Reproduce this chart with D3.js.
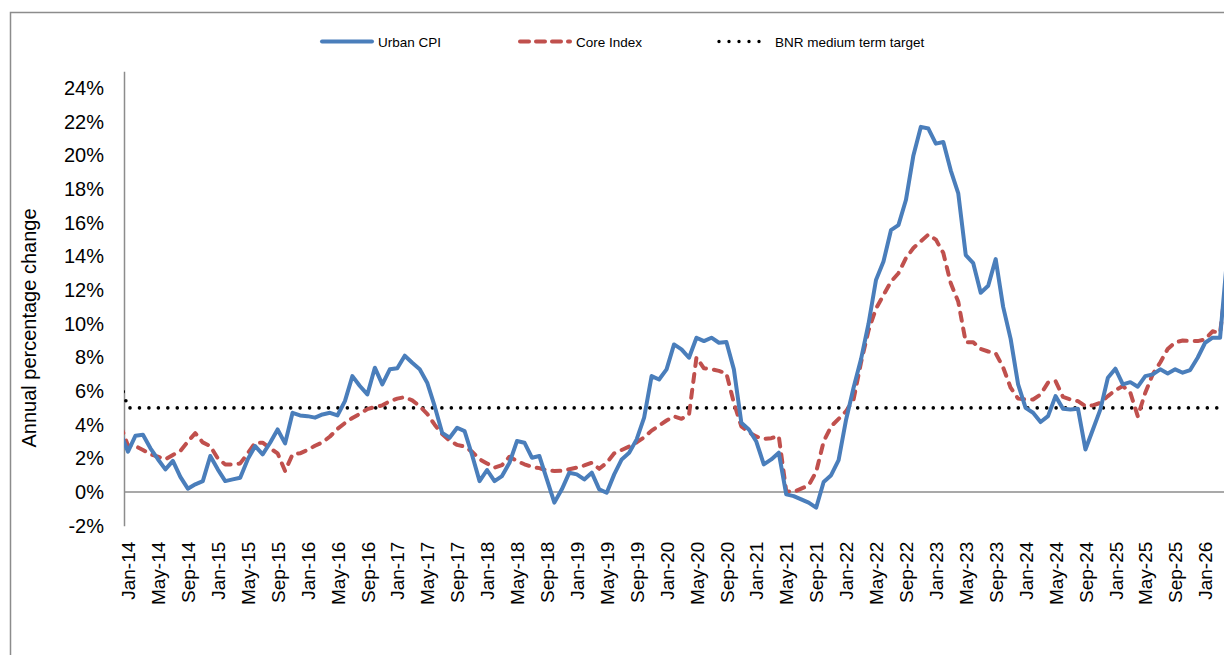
<!DOCTYPE html>
<html>
<head>
  <title>Urban CPI and Core Index - annual percentage change</title>
  <script src="https://d3js.org/d3.v7.min.js"></script>
  <style>
    body { margin: 0; background: #fff; }
    svg { display: block; font-family: "Liberation Sans", Arial, sans-serif; }
    .tick-label { font-size: 20px; fill: #000; }
    .x-label { font-size: 19px; fill: #000; }
    .legend text { font-size: 13.5px; fill: #000; }
    .axis-title { font-size: 20px; fill: #000; }
  </style>
</head>
<body>
<div id="chart"></div>
<script>
  // Monthly series, first value is Dec-13 (clipped at the axis), then Jan-14 ... Apr-26
  const urbanCPI = [
    3.5,
    2.4, 3.35, 3.4, 2.6, 1.95, 1.35, 1.85, 0.9, 0.2, 0.46, 0.65, 2.14,
    1.35, 0.65, 0.75, 0.85, 1.94, 2.73, 2.24, 2.93, 3.72, 2.89, 4.71, 4.55,
    4.51, 4.42, 4.61, 4.71, 4.55, 5.4, 6.89, 6.3, 5.8, 7.39, 6.4, 7.29,
    7.35, 8.1, 7.68, 7.29, 6.5, 5.1, 3.52, 3.23, 3.82, 3.62, 2.2, 0.65,
    1.31, 0.65, 0.95, 1.74, 3.03, 2.93, 2.04, 2.14, 0.75, -0.63, 0.16, 1.15,
    1.05, 0.75, 1.15, 0.16, -0.04, 1.05, 1.94, 2.34, 3.13, 4.42, 6.89, 6.69,
    7.29, 8.77, 8.48, 7.98, 9.17, 8.97, 9.17, 8.87, 8.91, 7.29, 4.12, 3.72,
    3.0, 1.64, 1.94, 2.34, -0.14, -0.24, -0.44, -0.63, -0.93, 0.6, 1.0, 1.9,
    4.3, 6.2, 7.9, 10.0, 12.6, 13.7, 15.56, 15.86, 17.35, 20.0, 21.7, 21.6,
    20.7, 20.8, 19.1, 17.74, 14.08, 13.6, 11.84, 12.26, 13.84, 11.0, 9.1, 6.4,
    5.0, 4.71, 4.16, 4.51, 5.7, 4.95, 4.91, 4.95, 2.53, 3.72, 4.91, 6.79,
    7.33, 6.4, 6.53, 6.26, 6.89, 6.99, 7.29, 7.05, 7.29, 7.09, 7.25, 7.98,
    8.87, 9.17, 9.17, 14.2
  ];

  const coreIndex = [
    3.95,
    2.75, 2.73, 2.5, 2.24, 2.1, 1.94, 2.2, 2.44, 3.0, 3.5, 2.95, 2.73,
    2.0, 1.64, 1.64, 1.7, 2.3, 2.93, 2.93, 2.6, 2.3, 1.25, 2.24, 2.3,
    2.5, 2.75, 2.95, 3.3, 3.75, 4.1, 4.4, 4.65, 4.93, 5.05, 5.15, 5.4,
    5.55, 5.64, 5.45, 5.1, 4.65, 4.0, 3.45, 3.05, 2.8, 2.7, 2.4, 1.95,
    1.7, 1.45, 1.6, 2.1, 1.85, 1.65, 1.5, 1.42, 1.28, 1.25, 1.26, 1.35,
    1.45, 1.58, 1.74, 1.38, 1.74, 2.3, 2.5, 2.7, 2.95, 3.25, 3.65, 3.95,
    4.25, 4.5, 4.35, 4.6, 8.0, 7.35, 7.3, 7.2, 7.05, 5.3, 3.9, 3.55,
    3.3, 3.15, 3.2, 3.33, 0.05, 0.0, 0.2, 0.4, 1.2, 3.0, 3.9, 4.35,
    4.8, 5.5, 7.7, 9.6, 10.9, 11.7, 12.5, 13.0, 13.9, 14.5, 14.9, 15.3,
    15.0, 14.2, 12.4, 11.3, 8.9, 8.9, 8.5, 8.35, 8.25, 7.4, 6.2, 5.55,
    5.5, 5.5, 5.8, 6.5, 6.6, 5.65, 5.5, 5.4, 5.1, 5.15, 5.3, 5.7,
    6.05, 6.3, 5.9, 4.5, 5.9, 7.0, 7.7, 8.5, 8.9, 9.0, 8.97, 8.97,
    9.07, 9.55, 9.45, 13.2
  ];

  const bnrTarget = [
    6.5,
    5, 5, 5, 5, 5, 5, 5, 5, 5, 5, 5, 5,
    5, 5, 5, 5, 5, 5, 5, 5, 5, 5, 5, 5,
    5, 5, 5, 5, 5, 5, 5, 5, 5, 5, 5, 5,
    5, 5, 5, 5, 5, 5, 5, 5, 5, 5, 5, 5,
    5, 5, 5, 5, 5, 5, 5, 5, 5, 5, 5, 5,
    5, 5, 5, 5, 5, 5, 5, 5, 5, 5, 5, 5,
    5, 5, 5, 5, 5, 5, 5, 5, 5, 5, 5, 5,
    5, 5, 5, 5, 5, 5, 5, 5, 5, 5, 5, 5,
    5, 5, 5, 5, 5, 5, 5, 5, 5, 5, 5, 5,
    5, 5, 5, 5, 5, 5, 5, 5, 5, 5, 5, 5,
    5, 5, 5, 5, 5, 5, 5, 5, 5, 5, 5, 5,
    5, 5, 5, 5, 5, 5, 5, 5, 5, 5, 5, 5,
    5, 5, 5, 5
  ];

  // Category labels shown on the x axis (every fourth month)
  const tickLabels = [
    "Jan-14", "May-14", "Sep-14", "Jan-15", "May-15", "Sep-15", "Jan-16", "May-16", "Sep-16",
    "Jan-17", "May-17", "Sep-17", "Jan-18", "May-18", "Sep-18", "Jan-19", "May-19", "Sep-19",
    "Jan-20", "May-20", "Sep-20", "Jan-21", "May-21", "Sep-21", "Jan-22", "May-22", "Sep-22",
    "Jan-23", "May-23", "Sep-23", "Jan-24", "May-24", "Sep-24", "Jan-25", "May-25", "Sep-25",
    "Jan-26"
  ];
  const yTicks = [-2, 0, 2, 4, 6, 8, 10, 12, 14, 16, 18, 20, 22, 24];

  const seriesNames = ["Urban CPI", "Core Index", "BNR medium term target"];

  // Page and plot geometry
  const W = 1224, H = 655;
  const plot = {left: 124, right: 1240, top: 71, bottom: 526};

  const svg = d3.select("#chart").append("svg")
    .attr("width", W)
    .attr("height", H);

  // Outer frame of the figure (partly cropped)
  svg.append("rect")
    .attr("x", 10.5).attr("y", 12.5)
    .attr("width", 1400).attr("height", 1000)
    .attr("fill", "none")
    .attr("stroke", "#8c8c8c")
    .attr("stroke-width", 1.5);

  // month index: -1 = Dec-13, 0 = Jan-14, ...
  const x = d3.scaleLinear()
    .domain([0, 144])
    .range([128, 128 + 144 * 7.48]);
  const y = d3.scaleLinear()
    .domain([-2, 25])
    .range([525.7, 71.3]);

  svg.append("clipPath").attr("id", "plotClip")
    .append("rect")
    .attr("x", plot.left).attr("y", plot.top - 20)
    .attr("width", plot.right - plot.left)
    .attr("height", plot.bottom - plot.top + 40);

  // Y axis with percentage labels
  const yAxis = svg.append("g")
    .attr("transform", `translate(${plot.left},0)`)
    .call(d3.axisLeft(y).tickValues(yTicks).tickSize(0).tickPadding(20)
      .tickFormat(d => d + "%"));
  yAxis.select(".domain").attr("stroke", "#8c8c8c").attr("stroke-width", 1.5);
  yAxis.selectAll(".tick text")
    .attr("class", "tick-label")
    .attr("font-family", null)
    .attr("font-size", null);

  // Zero line (horizontal axis crossing)
  svg.append("line")
    .attr("x1", plot.left).attr("x2", W + 10)
    .attr("y1", y(0)).attr("y2", y(0))
    .attr("stroke", "#8c8c8c")
    .attr("stroke-width", 1.5);

  // X axis labels, rotated
  const xAxis = svg.append("g")
    .attr("transform", `translate(0,${y(-2)})`)
    .call(d3.axisBottom(x)
      .tickValues(tickLabels.map((d, i) => i * 4))
      .tickSize(0)
      .tickFormat((d, i) => tickLabels[i]));
  xAxis.select(".domain").remove();
  xAxis.selectAll(".tick text")
    .attr("class", "x-label")
    .attr("font-family", null)
    .attr("font-size", null)
    .attr("transform", "rotate(-90)")
    .attr("text-anchor", "end")
    .attr("x", -16)
    .attr("y", 0)
    .attr("dy", "0.35em");

  // Y axis title
  svg.append("text")
    .attr("class", "axis-title")
    .attr("transform", "translate(36,328) rotate(-90)")
    .attr("text-anchor", "middle")
    .text("Annual percentage change");

  // Lines
  const line = d3.line()
    .x(d => x(d[0]))
    .y(d => y(d[1]));
  const toPoints = arr => arr.map((v, i) => [i - 1, v]);

  const lines = svg.append("g").attr("clip-path", "url(#plotClip)");

  lines.append("path")
    .datum(toPoints(bnrTarget))
    .attr("fill", "none")
    .attr("stroke", "#000")
    .attr("stroke-width", 3.6)
    .attr("stroke-linecap", "round")
    .attr("stroke-dasharray", "0,9.45")
    .attr("d", line);

  lines.append("path")
    .datum(toPoints(coreIndex))
    .attr("fill", "none")
    .attr("stroke", "#c0504d")
    .attr("stroke-width", 4)
    .attr("stroke-linecap", "round")
    .attr("stroke-linejoin", "round")
    .attr("stroke-dasharray", "8,8")
    .attr("d", line);

  lines.append("path")
    .datum(toPoints(urbanCPI))
    .attr("fill", "none")
    .attr("stroke", "#4a7ebb")
    .attr("stroke-width", 4)
    .attr("stroke-linejoin", "round")
    .attr("d", line);

  // Legend
  const legendItems = [
    {name: seriesNames[0], x: 322, color: "#4a7ebb", dash: null, width: 4, cap: "round"},
    {name: seriesNames[1], x: 520, color: "#c0504d", dash: "9,7", width: 4, cap: "round"},
    {name: seriesNames[2], x: 719, color: "#000", dash: "0,10", width: 3.4, cap: "round"}
  ];
  const legend = svg.selectAll(".legend")
    .data(legendItems)
    .enter().append("g")
    .attr("class", "legend");
  legend.append("line")
    .attr("x1", d => d.x).attr("x2", d => d.x + 50)
    .attr("y1", 41.5).attr("y2", 41.5)
    .attr("stroke", d => d.color)
    .attr("stroke-width", d => d.width)
    .attr("stroke-linecap", d => d.cap)
    .attr("stroke-dasharray", d => d.dash);
  legend.append("text")
    .attr("x", d => d.x + 56)
    .attr("y", 46.5)
    .text(d => d.name);
</script>
</body>
</html>
